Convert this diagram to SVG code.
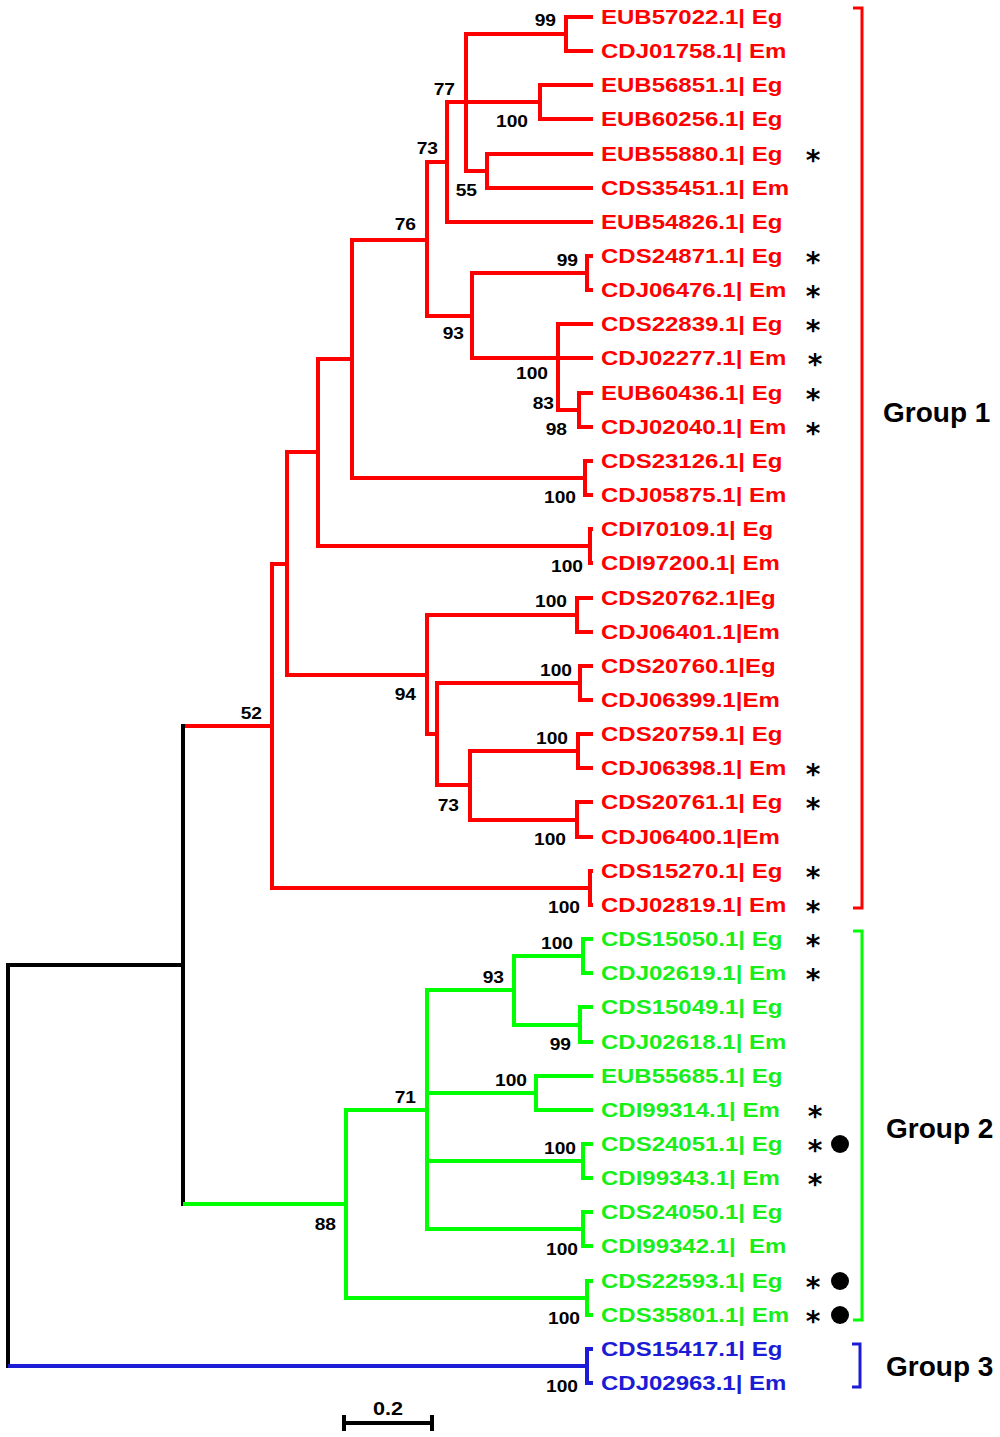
<svg xmlns="http://www.w3.org/2000/svg" width="1000" height="1437" viewBox="0 0 1000 1437">
<style>
.br{fill:none;stroke-width:4;stroke-linecap:square;stroke-linejoin:miter}
.r{stroke:#ff0000}.g{stroke:#00ff00}.b{stroke:#1c1cd6}.k{stroke:#000000}
.lbl{font-family:"Liberation Sans",Arial,sans-serif;font-weight:bold;font-size:20px}
.lr{fill:#ff0000}.lg{fill:#19ee19}.lb{fill:#1c1cd6}
.bs{font-family:"Liberation Sans",Arial,sans-serif;font-weight:bold;font-size:16px;fill:#000;text-anchor:end}
.ast{font-family:"DejaVu Sans",sans-serif;font-weight:bold;font-size:28px;text-anchor:middle;fill:#000}
.grp{font-family:"Liberation Sans",Arial,sans-serif;font-weight:bold;font-size:28px;fill:#000}
.brk{fill:none;stroke-width:3}
</style>
<rect width="1000" height="1437" fill="#ffffff"/>
<g id="connectors">
<path class="br r" d="M591,17 H566 V51 H591"/>
<path class="br r" d="M591,85 H540 V119 H591"/>
<path class="br r" d="M591,154 H487 V188 H591"/>
<path class="br r" d="M566,34 H466 V171 H487"/>
<path class="br r" d="M447,102 H540"/>
<path class="br r" d="M591,222 H447 V102"/>
<path class="br r" d="M591,256 H587 V290 H591"/>
<path class="br r" d="M591,393 H579 V427 H591"/>
<path class="br r" d="M591,324 H558 V410 H579"/>
<path class="br r" d="M472,358 H591"/>
<path class="br r" d="M587,273 H472 V358"/>
<path class="br r" d="M447,162 H427 V316 H472"/>
<path class="br r" d="M427,240 H352 V478 H585"/>
<path class="br r" d="M591,461 H585 V495 H591"/>
<path class="br r" d="M352,359 H318 V546 H590"/>
<path class="br r" d="M591,529 H590 V563 H591"/>
<path class="br r" d="M318,452 H287 V675 H427"/>
<path class="br r" d="M577,615 H427 V734 H437"/>
<path class="br r" d="M591,598 H577 V632 H591"/>
<path class="br r" d="M580,683 H437 V785 H470"/>
<path class="br r" d="M591,666 H580 V700 H591"/>
<path class="br r" d="M578,751 H470 V820 H577"/>
<path class="br r" d="M591,734 H578 V768 H591"/>
<path class="br r" d="M591,802 H577 V837 H591"/>
<path class="br r" d="M287,564 H272 V888 H590"/>
<path class="br r" d="M591,871 H590 V905 H591"/>
<path class="br r" d="M185,726 H272"/>
<path class="br k" d="M183,726 V1204"/>
<path class="br k" d="M183,965 H8 V1366"/>
<path class="br g" d="M185,1204 H346"/>
<path class="br g" d="M427,1110 H346 V1298 H587"/>
<path class="br g" d="M591,1281 H587 V1315 H591"/>
<path class="br g" d="M514,990 H427 V1229 H583"/>
<path class="br g" d="M427,1093 H536"/>
<path class="br g" d="M427,1161 H583"/>
<path class="br g" d="M591,1076 H536 V1110 H591"/>
<path class="br g" d="M591,1144 H583 V1178 H591"/>
<path class="br g" d="M591,1212 H583 V1246 H591"/>
<path class="br g" d="M583,956 H514 V1025 H580"/>
<path class="br g" d="M591,939 H583 V973 H591"/>
<path class="br g" d="M591,1007 H580 V1042 H591"/>
<path class="br b" d="M10,1366 H587"/>
<path class="br b" d="M591,1349 H587 V1383 H591"/>
</g>
<g id="bootstrap">
<text class="bs" transform="translate(556,26) scale(1.2,1)">99</text>
<text class="bs" transform="translate(455,95) scale(1.2,1)">77</text>
<text class="bs" transform="translate(528,127) scale(1.2,1)">100</text>
<text class="bs" transform="translate(438,154) scale(1.2,1)">73</text>
<text class="bs" transform="translate(477,196) scale(1.2,1)">55</text>
<text class="bs" transform="translate(416,230) scale(1.2,1)">76</text>
<text class="bs" transform="translate(578,266) scale(1.2,1)">99</text>
<text class="bs" transform="translate(464,339) scale(1.2,1)">93</text>
<text class="bs" transform="translate(548,379) scale(1.2,1)">100</text>
<text class="bs" transform="translate(554,409) scale(1.2,1)">83</text>
<text class="bs" transform="translate(567,435) scale(1.2,1)">98</text>
<text class="bs" transform="translate(576,503) scale(1.2,1)">100</text>
<text class="bs" transform="translate(583,572) scale(1.2,1)">100</text>
<text class="bs" transform="translate(567,607) scale(1.2,1)">100</text>
<text class="bs" transform="translate(572,676) scale(1.2,1)">100</text>
<text class="bs" transform="translate(416,700) scale(1.2,1)">94</text>
<text class="bs" transform="translate(568,744) scale(1.2,1)">100</text>
<text class="bs" transform="translate(459,811) scale(1.2,1)">73</text>
<text class="bs" transform="translate(566,845) scale(1.2,1)">100</text>
<text class="bs" transform="translate(580,913) scale(1.2,1)">100</text>
<text class="bs" transform="translate(262,719) scale(1.2,1)">52</text>
<text class="bs" transform="translate(573,949) scale(1.2,1)">100</text>
<text class="bs" transform="translate(504,983) scale(1.2,1)">93</text>
<text class="bs" transform="translate(571,1050) scale(1.2,1)">99</text>
<text class="bs" transform="translate(527,1086) scale(1.2,1)">100</text>
<text class="bs" transform="translate(416,1103) scale(1.2,1)">71</text>
<text class="bs" transform="translate(576,1154) scale(1.2,1)">100</text>
<text class="bs" transform="translate(336,1230) scale(1.2,1)">88</text>
<text class="bs" transform="translate(578,1255) scale(1.2,1)">100</text>
<text class="bs" transform="translate(580,1324) scale(1.2,1)">100</text>
<text class="bs" transform="translate(578,1392) scale(1.2,1)">100</text>
</g>
<g id="leaves">
<g id="n-EUB57022"><text class="lbl lr" transform="translate(601,24) scale(1.2,1)">EUB57022.1| Eg</text></g>
<g id="n-CDJ01758"><text class="lbl lr" transform="translate(601,58) scale(1.2,1)">CDJ01758.1| Em</text></g>
<g id="n-EUB56851"><text class="lbl lr" transform="translate(601,92) scale(1.2,1)">EUB56851.1| Eg</text></g>
<g id="n-EUB60256"><text class="lbl lr" transform="translate(601,126) scale(1.2,1)">EUB60256.1| Eg</text></g>
<g id="n-EUB55880"><text class="lbl lr" transform="translate(601,161) scale(1.2,1)">EUB55880.1| Eg</text><text class="ast" x="813" y="170">*</text></g>
<g id="n-CDS35451"><text class="lbl lr" transform="translate(601,195) scale(1.2,1)">CDS35451.1| Em</text></g>
<g id="n-EUB54826"><text class="lbl lr" transform="translate(601,229) scale(1.2,1)">EUB54826.1| Eg</text></g>
<g id="n-CDS24871"><text class="lbl lr" transform="translate(601,263) scale(1.2,1)">CDS24871.1| Eg</text><text class="ast" x="813" y="272">*</text></g>
<g id="n-CDJ06476"><text class="lbl lr" transform="translate(601,297) scale(1.2,1)">CDJ06476.1| Em</text><text class="ast" x="813" y="306">*</text></g>
<g id="n-CDS22839"><text class="lbl lr" transform="translate(601,331) scale(1.2,1)">CDS22839.1| Eg</text><text class="ast" x="813" y="340">*</text></g>
<g id="n-CDJ02277"><text class="lbl lr" transform="translate(601,365) scale(1.2,1)">CDJ02277.1| Em</text><text class="ast" x="815" y="374">*</text></g>
<g id="n-EUB60436"><text class="lbl lr" transform="translate(601,400) scale(1.2,1)">EUB60436.1| Eg</text><text class="ast" x="813" y="409">*</text></g>
<g id="n-CDJ02040"><text class="lbl lr" transform="translate(601,434) scale(1.2,1)">CDJ02040.1| Em</text><text class="ast" x="813" y="443">*</text></g>
<g id="n-CDS23126"><text class="lbl lr" transform="translate(601,468) scale(1.2,1)">CDS23126.1| Eg</text></g>
<g id="n-CDJ05875"><text class="lbl lr" transform="translate(601,502) scale(1.2,1)">CDJ05875.1| Em</text></g>
<g id="n-CDI70109"><text class="lbl lr" transform="translate(601,536) scale(1.2,1)">CDI70109.1| Eg</text></g>
<g id="n-CDI97200"><text class="lbl lr" transform="translate(601,570) scale(1.2,1)">CDI97200.1| Em</text></g>
<g id="n-CDS20762"><text class="lbl lr" transform="translate(601,605) scale(1.2,1)">CDS20762.1|Eg</text></g>
<g id="n-CDJ06401"><text class="lbl lr" transform="translate(601,639) scale(1.2,1)">CDJ06401.1|Em</text></g>
<g id="n-CDS20760"><text class="lbl lr" transform="translate(601,673) scale(1.2,1)">CDS20760.1|Eg</text></g>
<g id="n-CDJ06399"><text class="lbl lr" transform="translate(601,707) scale(1.2,1)">CDJ06399.1|Em</text></g>
<g id="n-CDS20759"><text class="lbl lr" transform="translate(601,741) scale(1.2,1)">CDS20759.1| Eg</text></g>
<g id="n-CDJ06398"><text class="lbl lr" transform="translate(601,775) scale(1.2,1)">CDJ06398.1| Em</text><text class="ast" x="813" y="784">*</text></g>
<g id="n-CDS20761"><text class="lbl lr" transform="translate(601,809) scale(1.2,1)">CDS20761.1| Eg</text><text class="ast" x="813" y="818">*</text></g>
<g id="n-CDJ06400"><text class="lbl lr" transform="translate(601,844) scale(1.2,1)">CDJ06400.1|Em</text></g>
<g id="n-CDS15270"><text class="lbl lr" transform="translate(601,878) scale(1.2,1)">CDS15270.1| Eg</text><text class="ast" x="813" y="887">*</text></g>
<g id="n-CDJ02819"><text class="lbl lr" transform="translate(601,912) scale(1.2,1)">CDJ02819.1| Em</text><text class="ast" x="813" y="921">*</text></g>
<g id="n-CDS15050"><text class="lbl lg" transform="translate(601,946) scale(1.2,1)">CDS15050.1| Eg</text><text class="ast" x="813" y="955">*</text></g>
<g id="n-CDJ02619"><text class="lbl lg" transform="translate(601,980) scale(1.2,1)">CDJ02619.1| Em</text><text class="ast" x="813" y="989">*</text></g>
<g id="n-CDS15049"><text class="lbl lg" transform="translate(601,1014) scale(1.2,1)">CDS15049.1| Eg</text></g>
<g id="n-CDJ02618"><text class="lbl lg" transform="translate(601,1049) scale(1.2,1)">CDJ02618.1| Em</text></g>
<g id="n-EUB55685"><text class="lbl lg" transform="translate(601,1083) scale(1.2,1)">EUB55685.1| Eg</text></g>
<g id="n-CDI99314"><text class="lbl lg" transform="translate(601,1117) scale(1.2,1)">CDI99314.1| Em</text><text class="ast" x="815" y="1126">*</text></g>
<g id="n-CDS24051"><text class="lbl lg" transform="translate(601,1151) scale(1.2,1)">CDS24051.1| Eg</text><text class="ast" x="815" y="1160">*</text><circle cx="840" cy="1144" r="9" fill="#000"/></g>
<g id="n-CDI99343"><text class="lbl lg" transform="translate(601,1185) scale(1.2,1)">CDI99343.1| Em</text><text class="ast" x="815" y="1194">*</text></g>
<g id="n-CDS24050"><text class="lbl lg" transform="translate(601,1219) scale(1.2,1)">CDS24050.1| Eg</text></g>
<g id="n-CDI99342"><text class="lbl lg" transform="translate(601,1253) scale(1.2,1)" xml:space="preserve">CDI99342.1|  Em</text></g>
<g id="n-CDS22593"><text class="lbl lg" transform="translate(601,1288) scale(1.2,1)">CDS22593.1| Eg</text><text class="ast" x="813" y="1297">*</text><circle cx="840" cy="1281" r="9" fill="#000"/></g>
<g id="n-CDS35801"><text class="lbl lg" transform="translate(601,1322) scale(1.2,1)">CDS35801.1| Em</text><text class="ast" x="813" y="1331">*</text><circle cx="840" cy="1315" r="9" fill="#000"/></g>
<g id="n-CDS15417"><text class="lbl lb" transform="translate(601,1356) scale(1.2,1)">CDS15417.1| Eg</text></g>
<g id="n-CDJ02963"><text class="lbl lb" transform="translate(601,1390) scale(1.2,1)">CDJ02963.1| Em</text></g>
</g>
<g id="groups">
<g id="group1"><path class="brk" stroke="#ff0000" d="M853,8 H862 V908 H853"/><text class="grp" x="883" y="422">Group 1</text></g>
<g id="group2"><path class="brk" stroke="#00ff00" d="M853,931 H862 V1320 H853"/><text class="grp" x="886" y="1138">Group 2</text></g>
<g id="group3"><path class="brk" stroke="#1c1cd6" d="M852,1344 H860 V1387 H852"/><text class="grp" x="886" y="1376">Group 3</text></g>
</g>
<g id="scale">
<path fill="none" stroke="#000" stroke-width="4" d="M344,1415 V1431 M344,1423 H432 M432,1415 V1431"/>
<text class="bs" style="text-anchor:middle;font-size:18px" transform="translate(388,1415) scale(1.2,1)">0.2</text>
</g>
</svg>
